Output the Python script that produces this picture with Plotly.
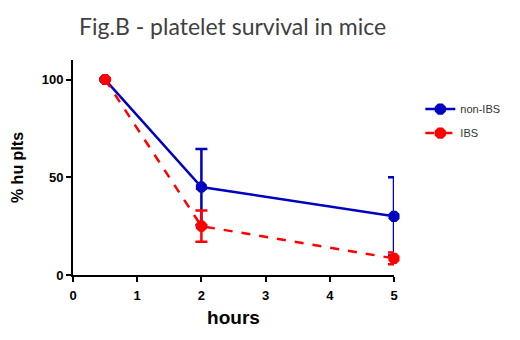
import plotly.graph_objects as go

hours = [0.5, 2, 5]
non_ibs = [100, 45, 30]
non_ibs_err = [0, 19.5, 20]
ibs = [100, 25, 8.5]
ibs_err = [0, 8, 3]

x_ticks = [0, 1, 2, 3, 4, 5]
y_ticks = [0, 50, 100]

fig = go.Figure()
fig.add_trace(go.Scatter(
    x=hours, y=non_ibs, name="non-IBS", mode="lines+markers", legendgroup="a",
    line=dict(color="#0000c0", width=2.5),
    marker=dict(color="#0000c0", size=12, symbol="octagon"),
    error_y=dict(type="data", array=non_ibs_err, color="#0000c0", thickness=2.5, width=6),
    cliponaxis=False,
))
fig.add_trace(go.Scatter(
    x=hours, y=ibs, name="IBS", mode="lines+markers", legendgroup="b",
    line=dict(color="#ff0000", width=2.5, dash="dash"),
    marker=dict(color="#ff0000", size=12, symbol="octagon"),
    error_y=dict(type="data", array=ibs_err, color="#ff0000", thickness=2.5, width=6),
    cliponaxis=False,
))

fig.update_layout(
    width=520, height=340,
    margin=dict(l=65, r=134, t=52, b=73, autoexpand=False),
    paper_bgcolor="white", plot_bgcolor="white",
    title=dict(text="Fig.B - platelet survival in mice", x=0.432, xanchor="center",
               y=0.945, yanchor="middle",
               font=dict(family="Lato", size=23, color="#404040")),
    font=dict(family="Liberation Sans, Arial", color="black"),
    legend=dict(x=1.082, y=0.839, xanchor="left", yanchor="top",
                font=dict(size=11, family="Liberation Sans, Arial", color="#333"),
                itemwidth=30, tracegroupgap=5, bgcolor="rgba(0,0,0,0)"),
    showlegend=True,
)
fig.update_xaxes(
    range=[0, 5], tickvals=x_ticks, ticktext=[str(t) for t in x_ticks],
    showline=True, linecolor="black", linewidth=2, mirror=False,
    ticks="outside", ticklen=5, tickwidth=2, tickcolor="black",
    showgrid=False, zeroline=False, automargin=False, ticklabelstandoff=2,
    tickfont=dict(size=13, family="Liberation Sans, Arial", color="black", weight="bold"),
    title=dict(text="<b>hours</b>", font=dict(size=19, color="black"), standoff=9),
)
fig.update_yaxes(
    range=[0, 110], tickvals=y_ticks, ticktext=[str(t) for t in y_ticks],
    showline=True, linecolor="black", linewidth=2, mirror=False,
    ticks="outside", ticklen=5, tickwidth=2, tickcolor="black",
    showgrid=False, zeroline=False, automargin=False,
    tickfont=dict(size=13, family="Liberation Sans, Arial", color="black", weight="bold"),
    title=dict(text="<b>% hu plts</b>", font=dict(size=16, color="black"), standoff=14),
)

fig.write_html("out.html")
